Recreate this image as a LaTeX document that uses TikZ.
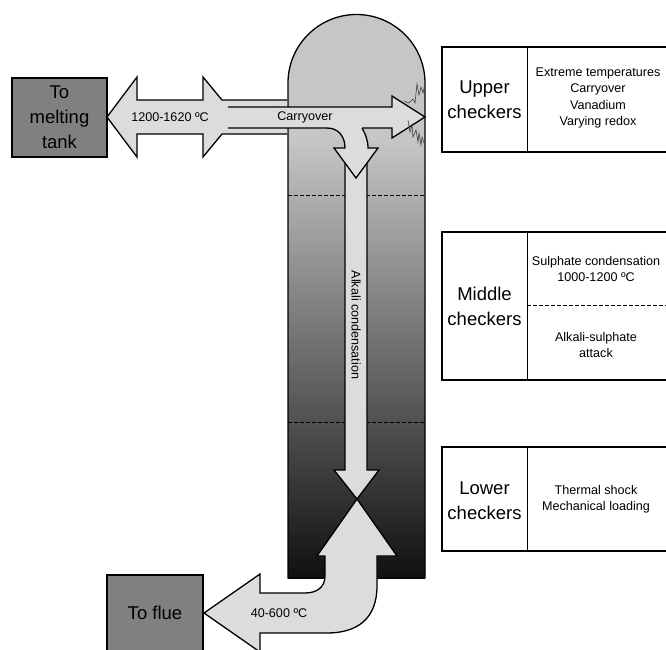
\documentclass[tikz,border=0pt]{standalone}
\usepackage{fontspec}
\setmainfont{Liberation Sans}
\definecolor{domegray}{HTML}{C6C6C6}
\definecolor{arrowfill}{HTML}{DCDCDC}
\definecolor{boxgray}{HTML}{808080}
\definecolor{darkend}{HTML}{101010}
\begin{document}
\begin{tikzpicture}[x=1pt,y=-1pt, line join=miter,
  outl/.style={draw=black, line width=1.3pt},
  arr/.style={fill=arrowfill, draw=black, line width=1.3pt},
  txtbig/.style={font=\fontsize{18.5}{25}\selectfont, align=center, inner sep=0pt},
  txtsmall/.style={font=\fontsize{12.6}{16.3}\selectfont, align=center, inner sep=0pt},
  graybox/.style={fill=boxgray, draw=black, line width=1.3pt},
  infobox/.style={draw=black, line width=1.6pt},
  divider/.style={draw=black, line width=0.8pt},
  sepdash/.style={draw=black, line width=0.9pt, dash pattern=on 4pt off 2pt},
  sparkline/.style={draw=black!75, line width=0.6pt}]
\useasboundingbox (0,0) rectangle (666,649);
\clip (0,0) rectangle (666,649);
\fill[white] (0,0) rectangle (666,649);

% column (regenerator)
\fill[domegray] (288,140) -- (288,83) .. controls (288,45.2) and (318.7,14.5) .. (356.5,14.5)
  .. controls (394.3,14.5) and (425,45.2) .. (425,83) -- (425,140) -- cycle;
\shade[top color=domegray, bottom color=darkend] (288,139) rectangle (425,578);
\draw[outl] (288,578) -- (288,83) .. controls (288,45.2) and (318.7,14.5) .. (356.5,14.5)
  .. controls (394.3,14.5) and (425,45.2) .. (425,83) -- (425,578) -- cycle;
\draw[sepdash] (288,195) -- (425,195);
\draw[sepdash] (288,422) -- (425,422);

% long downward arrow
\filldraw[arr] (345,150) -- (345,470) -- (334,470) -- (357,499) -- (379,470) -- (367,470) -- (367,150) -- cycle;
\node[txtsmall, rotate=-90] (alk) at (356,325) {Alkali condensation};

% upward / leftward arrow to flue
\filldraw[arr] (357,499) -- (397,556) -- (377,556) -- (377,586) .. controls (377,618) and (358,633) .. (327,633)
  -- (260,633) -- (260,652) -- (204,613) -- (260,574) -- (260,593) -- (305,593)
  .. controls (317,593) and (325,587) .. (325,576) -- (325,556) -- (317,556) -- cycle;
\node[txtsmall] (lowtemp) at (279,613) {40-600 ºC};

% boxes to melting tank / to flue
\node[graybox, txtbig, minimum width=96pt, minimum height=76pt] (flue) at (155,613) {To flue};
\node[graybox, txtbig, minimum width=95pt, minimum height=79pt] (melt) at (59.5,117.5) {To\\melting\\tank};

% double arrow with pipe
\filldraw[arr] (287,100) -- (222,100) -- (203,77) -- (203,100) -- (137,100) -- (137,77) -- (107,117)
  -- (137,157) -- (137,134) -- (203,134) -- (203,157) -- (222,134) -- (287,134);
\node[txtsmall] (hightemp) at (170,117) {1200-1620 ºC};

% carryover arrow
\filldraw[arr] (228,107) -- (392,107) -- (392,96) -- (425,117) -- (392,138) -- (392,128) -- (228,128);
\node[txtsmall] (carry) at (305,117) {Carryover};

% short bending arrow
\fill[arrowfill] (327,125) -- (327,128) .. controls (338,128) and (345,136) .. (345,148) -- (334,148)
  -- (356,178) -- (378,148) -- (368,148) .. controls (368,140) and (365,133) .. (362,128) -- (362,125) -- cycle;
\draw[outl] (327,128) .. controls (338,128) and (345,136) .. (345,148) -- (334,148)
  -- (356,178) -- (378,148) -- (368,148) .. controls (368,140) and (365,133) .. (362,128);

% sparks
\draw[sparkline] (404,101) -- (409,103) -- (413,99) -- (415,103) -- (417,84) -- (419,95) -- (421,87) -- (423,93) -- (425,84);
\draw[sparkline] (408,120) -- (410,132) -- (412,125) -- (413,137) -- (416,130) -- (418,142) -- (419,133) -- (421,145) -- (422,137) -- (424,143);

% upper checkers box
\draw[infobox] (670,47) -- (442,47) -- (442,152) -- (670,152);
\draw[divider] (527,47) -- (527,152);
\node[txtbig] (upper) at (484.5,100) {Upper\\checkers};
\node[txtsmall] (uppertxt) at (598,98) {Extreme temperatures\\Carryover\\Vanadium\\Varying redox};

% middle checkers box
\draw[infobox] (670,232) -- (442,232) -- (442,380) -- (670,380);
\draw[divider] (527,232) -- (527,380);
\draw[sepdash] (527,305) -- (670,305);
\node[txtbig] (middle) at (484.5,306) {Middle\\checkers};
\node[txtsmall] (midtxta) at (596,269) {Sulphate condensation\\1000-1200 ºC};
\node[txtsmall] (midtxtb) at (596,345) {Alkali-sulphate\\attack};

% lower checkers box
\draw[infobox] (670,447) -- (442,447) -- (442,551) -- (670,551);
\draw[divider] (527,447) -- (527,551);
\node[txtbig] (lower) at (484.5,501) {Lower\\checkers};
\node[txtsmall] (lowtxt) at (596,499) {Thermal shock\\Mechanical loading};
\end{tikzpicture}
\end{document}
